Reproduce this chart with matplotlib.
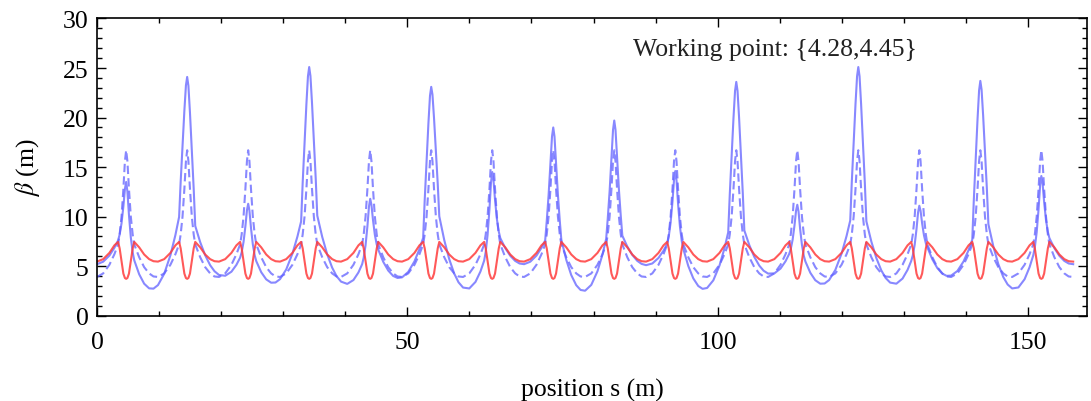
import numpy as np
import matplotlib.pyplot as plt
from matplotlib.ticker import MultipleLocator

plt.rcParams['font.family'] = ['Liberation Serif', 'DejaVu Serif']
plt.rcParams['mathtext.fontset'] = 'stix'

# ring made of 16 identical cells
cell_length = 9.83
n_cells = 16
ring_length = 157.28

# sample positions inside one cell (m), quadrupole centre at 4.7 m
cell_s = [0.0, 1.0, 2.0, 2.8, 3.4, 3.65, 3.95, 4.25, 4.5, 4.7,
          4.9, 5.15, 5.45, 5.75, 6.0, 6.8, 7.6, 8.4, 9.1]

# horizontal beta, design optics (one cell)
beta_x_cell = [5.46, 5.71, 6.34, 7.10, 7.45, 6.80, 5.50, 4.25, 3.80, 3.72,
               3.80, 4.25, 5.50, 6.80, 7.45, 6.90, 6.18, 5.71, 5.50]
beta_x_end = 5.46

# vertical beta, design optics (one cell)
beta_y_cell = [3.91, 4.27, 5.14, 6.20, 7.20, 8.20, 10.0, 12.8, 15.6, 16.7,
               15.6, 12.8, 10.0, 8.20, 7.20, 5.90, 4.90, 4.27, 3.96]
beta_y_end = 3.91

# vertical beta with the working point moved, cell by cell
beta_y_wp = [
    [5.20, 5.45, 6.07, 6.85, 7.60, 8.19, 9.31, 11.02, 12.79, 13.5, 12.55, 10.18, 7.89, 6.39, 5.60, 4.18, 3.23, 2.76, 2.73],
    [3.09, 4.23, 6.10, 8.13, 9.97, 13.50, 17.04, 20.71, 23.25, 24.1, 23.20, 20.49, 16.58, 12.82, 9.06, 7.42, 6.10, 5.10, 4.49],
    [4.11, 4.03, 4.44, 5.13, 5.86, 6.40, 7.44, 9.02, 10.65, 11.3, 10.61, 8.87, 7.19, 6.09, 5.51, 4.39, 3.67, 3.33, 3.35],
    [3.69, 4.67, 6.27, 7.98, 9.52, 13.42, 17.31, 21.36, 24.17, 25.1, 24.20, 21.50, 17.60, 13.85, 10.10, 7.95, 6.20, 4.85, 4.00],
    [3.44, 3.21, 3.60, 4.36, 5.20, 5.86, 7.11, 9.03, 11.01, 11.8, 11.18, 9.65, 8.16, 7.18, 6.67, 5.44, 4.56, 4.01, 3.81],
    [3.87, 4.42, 5.48, 6.72, 7.86, 11.67, 15.48, 19.44, 22.19, 23.1, 22.32, 19.96, 16.57, 13.30, 10.03, 7.63, 5.71, 4.26, 3.37],
    [2.84, 2.75, 3.41, 4.46, 5.56, 6.45, 8.15, 10.75, 13.43, 14.5, 13.70, 11.70, 9.76, 8.50, 7.83, 6.82, 6.05, 5.53, 5.27],
    [5.20, 5.45, 6.07, 6.85, 7.60, 9.54, 12.16, 15.35, 18.09, 19.0, 18.09, 15.38, 12.21, 9.60, 7.68, 5.64, 4.10, 3.08, 2.60],
    [2.52, 3.11, 4.49, 6.17, 7.77, 9.80, 12.54, 15.88, 18.75, 19.7, 18.77, 15.98, 12.73, 10.06, 8.08, 6.98, 6.14, 5.54, 5.23],
    [5.10, 5.27, 5.83, 6.56, 7.27, 8.00, 9.40, 11.52, 13.72, 14.6, 13.66, 11.29, 9.01, 7.52, 6.73, 5.01, 3.77, 3.00, 2.71],
    [2.80, 3.57, 5.07, 6.81, 8.42, 12.22, 16.01, 19.96, 22.69, 23.6, 22.70, 20.00, 16.10, 12.35, 8.60, 7.12, 5.94, 5.06, 4.54],
    [4.25, 4.27, 4.76, 5.49, 6.24, 6.74, 7.68, 9.12, 10.60, 11.2, 10.51, 8.80, 7.14, 6.05, 5.48, 4.33, 3.58, 3.23, 3.25],
    [3.60, 4.62, 6.26, 8.03, 9.61, 13.48, 17.36, 21.38, 24.17, 25.1, 24.17, 21.36, 17.32, 13.42, 9.53, 7.48, 5.83, 4.58, 3.81],
    [3.34, 3.23, 3.75, 4.62, 5.53, 6.09, 7.15, 8.76, 10.43, 11.1, 10.59, 9.33, 8.11, 7.31, 6.89, 5.69, 4.81, 4.25, 4.02],
    [4.05, 4.51, 5.48, 6.61, 7.67, 11.68, 15.69, 19.85, 22.74, 23.7, 22.83, 20.23, 16.47, 12.85, 9.23, 6.98, 5.20, 3.90, 3.15],
    [2.75, 2.85, 3.68, 4.89, 6.10, 6.90, 8.42, 10.74, 13.14, 14.1, 13.35, 11.47, 9.65, 8.46, 7.83, 6.82, 6.05, 5.53, 5.27],
]
beta_y_wp_end = 5.20

s = np.concatenate([k * cell_length + np.array(cell_s) for k in range(n_cells)] + [[ring_length]])
bx = np.append(np.tile(beta_x_cell, n_cells), beta_x_end)
by = np.append(np.tile(beta_y_cell, n_cells), beta_y_end)
by_wp = np.append(np.concatenate(beta_y_wp), beta_y_wp_end)

blue = '#6060ff'
red = '#ff3c3c'
fs = 18.5

fig, ax = plt.subplots(figsize=(10.91, 4.02), dpi=100)
fig.subplots_adjust(left=0.0889, right=0.9963, bottom=0.2122, top=0.9515)

ax.plot(s, by_wp, color=blue, lw=1.5, alpha=0.75)
ax.plot(s, by, color=blue, lw=1.5, alpha=0.75, ls=(0, (4, 2)))
ax.plot(s, bx, color=red, lw=1.5, alpha=0.85)

ax.set_xlim(0, 159.5)
ax.set_ylim(0, 30)
ax.xaxis.set_major_locator(MultipleLocator(50))
ax.xaxis.set_minor_locator(MultipleLocator(10))
ax.yaxis.set_major_locator(MultipleLocator(5))
ax.yaxis.set_minor_locator(MultipleLocator(1))
ax.tick_params(which='both', direction='in', top=True, right=True,
               labelsize=fs, width=1.0, colors='black')
ax.tick_params(which='major', length=6.5)
ax.tick_params(which='minor', length=3.5)
ax.tick_params(axis='x', pad=11)
ax.tick_params(axis='y', pad=6)
for sp in ax.spines.values():
    sp.set_linewidth(1.2)

ax.set_xlabel('position s (m)', fontsize=fs, labelpad=18)
ax.set_ylabel(r'$\beta$ (m)', fontsize=fs, labelpad=15)
ax.text(86.35, 26.9, 'Working point: {4.28,4.45}', fontsize=fs, va='center',
        color='#222222')

fig.savefig('out.png')
